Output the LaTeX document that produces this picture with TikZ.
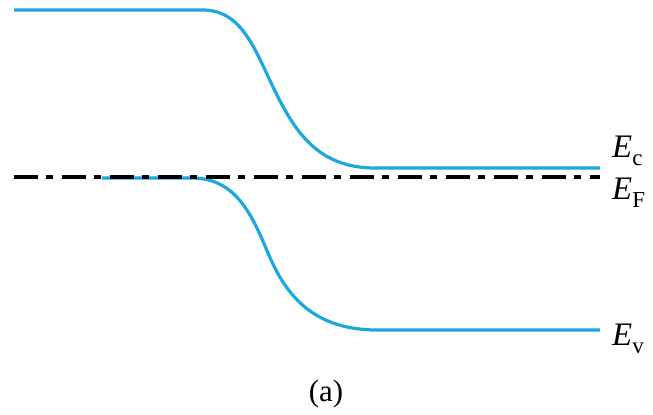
\documentclass[tikz,border=0pt]{standalone}
\usepackage{fontspec}
\setmainfont{Liberation Serif}
\definecolor{bandblue}{RGB}{28,168,222}
\newcommand{\enlbl}[2]{\textit{E}\raisebox{-0.25em}{\fontsize{23}{25}\selectfont #2}}
\tikzset{
  band/.style={draw=bandblue, line width=3.2bp, line cap=butt},
  fermi/.style={draw=black, line width=3.2bp, dash pattern=on 24bp off 8bp on 7bp off 9bp},
  lbl/.style={inner sep=0pt, anchor=base west, font=\fontsize{33}{36}\selectfont}
}
\begin{document}
\begin{tikzpicture}[x=1bp,y=-1bp]
\useasboundingbox (0,0) rectangle (653,414);
% conduction band
\draw[band] (14,10) -- (203,10) .. controls (242,10) and (255,50) .. (274,89)
  .. controls (295,132) and (318,168) .. (375,168) -- (600,168);
% valence band
\draw[band] (102,178) -- (192,178) .. controls (236,178) and (252,215) .. (268,253)
  .. controls (284,291) and (310,330) .. (377,330) -- (600,330);
% Fermi level
\draw[fermi] (14,177) -- (600,177);
% labels
\node[lbl] (ec) at (612,157) {\enlbl{E}{c}};
\node[lbl] (ef) at (612,199) {\enlbl{E}{F}};
\node[lbl] (ev) at (612,345) {\enlbl{E}{v}};
\node[lbl, anchor=base, font=\fontsize{31}{34}\selectfont] (cap) at (326,401) {(a)};
\end{tikzpicture}
\end{document}
